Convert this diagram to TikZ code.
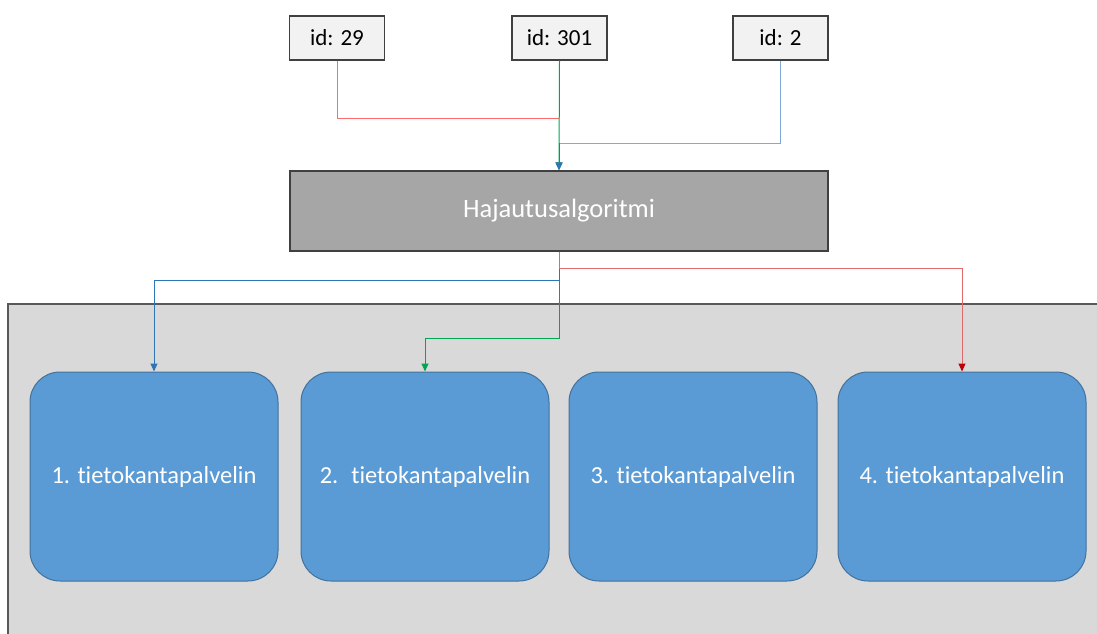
\documentclass[tikz,border=0pt]{standalone}
\usepackage{fontspec}
\setmainfont{Carlito}[Ligatures=NoCommon]
\usetikzlibrary{arrows.meta}
\definecolor{panelfill}{HTML}{D9D9D9}
\definecolor{panelline}{HTML}{595959}
\definecolor{idfill}{HTML}{F2F2F2}
\definecolor{idline}{HTML}{404040}
\definecolor{hashfill}{HTML}{A6A6A6}
\definecolor{srvfill}{HTML}{5B9BD5}
\definecolor{srvline}{HTML}{41719C}
\definecolor{cred}{HTML}{FF6B6B}
\definecolor{credd}{HTML}{E06A6A}
\definecolor{credarrow}{HTML}{C00000}
\definecolor{cblue}{HTML}{2E75B6}
\definecolor{cbluel}{HTML}{7FA9D6}
\definecolor{cgreen}{HTML}{00A651}
\begin{document}
\begin{tikzpicture}[x=1pt,y=-1pt,
  idbox/.style={draw=idline,fill=idfill,line width=1.2pt,minimum width=95pt,minimum height=44pt,inner sep=0pt,font=\fontsize{23}{27}\selectfont,text=black},
  hashbox/.style={draw=idline,fill=hashfill,line width=1.4pt,minimum width=538pt,minimum height=80pt,inner sep=0pt,font=\fontsize{26.5}{30}\selectfont,text=white},
  srvbox/.style={draw=srvline,fill=srvfill,line width=1pt,rounded corners=30pt,minimum width=248pt,minimum height=209pt,inner sep=0pt,font=\fontsize{24.5}{29}\selectfont,text=white},
  conn/.style={line width=1pt},
  tip/.style={-{Triangle[width=7pt,length=8pt]}}
]
\useasboundingbox (0,0) rectangle (1097,634);
\fill[panelfill] (8,304) rectangle (1100,640);
\draw[panelline,line width=1.3pt] (8,640) -- (8,304) -- (1100,304);

\node[idbox] (id29) at (337,38) {id: 29};
\node[idbox] (id301) at (559.5,38) {id: 301};
\node[idbox] (id2) at (780.5,38) {id: 2};

\node[hashbox] (hash) at (559,211) {Hajautusalgoritmi};

\node[srvbox] (s1) at (154,476.5) {1. tietokantapalvelin};
\node[srvbox] (s2) at (425,476.5) {2.~ tietokantapalvelin};
\node[srvbox] (s3) at (693,476.5) {3. tietokantapalvelin};
\node[srvbox] (s4) at (962,476.5) {4. tietokantapalvelin};

\coordinate (jred) at (559,118);
\coordinate (jblue) at (559,143);
\draw[conn,cred] (id29.south) |- (jred);
\draw[conn,cgreen,tip] (id301.south) -- (hash.north);
\draw[conn,cbluel] (id2.south) |- (jblue);
\draw[conn,cblue,tip] (jblue) -- (hash.north);

\coordinate (bred) at (559,268);
\coordinate (bblue) at (559,280);
\coordinate (bgreen) at (559,338);
\draw[conn,cgreen,tip] (hash.south) -- (bgreen) -| (s2.north);
\draw[conn,cblue,tip] (hash.south) -- (bblue) -| (s1.north);
\draw[conn,credd,-{Triangle[width=7pt,length=8pt,color=credarrow]}] (hash.south) -- (bred) -| (s4.north);
\end{tikzpicture}
\end{document}
